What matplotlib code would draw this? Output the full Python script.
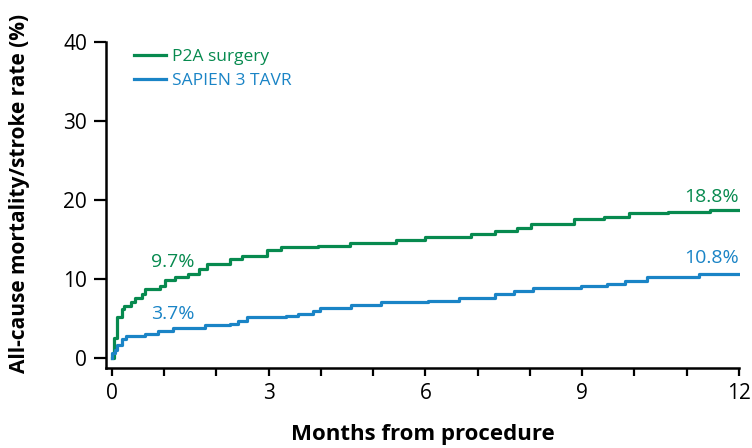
import matplotlib
matplotlib.use("Agg")
import matplotlib.pyplot as plt

plt.rcParams['font.family'] = ['Open Sans', 'DejaVu Sans']

# P2A surgery (green) step data: months, cumulative rate (%)
surg_t = [0.0, 0.03, 0.05, 0.11, 0.19, 0.24, 0.37, 0.44, 0.57, 0.64, 0.92, 1.02, 1.21, 1.46,
          1.67, 1.83, 2.26, 2.49, 2.98, 3.23, 3.94, 4.55, 5.44, 5.99, 6.88, 7.33, 7.75, 8.03,
          8.84, 9.41, 9.90, 10.64, 11.44, 12.0]
surg_y = [0.0, 0.0, 2.5, 5.1, 6.2, 6.5, 7.0, 7.6, 8.1, 8.7, 9.1, 9.8, 10.2, 10.6,
          11.2, 11.9, 12.5, 12.9, 13.6, 14.0, 14.2, 14.5, 14.9, 15.3, 15.7, 16.1, 16.5, 17.0,
          17.6, 17.8, 18.3, 18.5, 18.7, 18.7]

# SAPIEN 3 TAVR (blue) step data
tavr_t = [0.0, 0.01, 0.06, 0.11, 0.19, 0.27, 0.64, 0.89, 1.18, 1.78, 2.26, 2.42, 2.58, 3.34,
          3.56, 3.85, 3.99, 4.57, 5.15, 6.06, 6.65, 7.33, 7.70, 8.06, 8.97, 9.48, 9.82,
          10.25, 11.23, 12.0]
tavr_y = [0.0, 0.6, 1.0, 1.6, 2.4, 2.7, 3.0, 3.4, 3.8, 4.1, 4.3, 4.6, 5.1, 5.3,
          5.5, 5.9, 6.3, 6.7, 7.0, 7.2, 7.6, 8.1, 8.5, 8.9, 9.1, 9.4, 9.7,
          10.2, 10.6, 10.6]

series_labels = ["P2A surgery", "SAPIEN 3 TAVR"]
annot_surg = ["9.7%", "18.8%"]
annot_tavr = ["3.7%", "10.8%"]
x_ticks = [0, 3, 6, 9, 12]
y_ticks = [0, 10, 20, 30, 40]

GREEN = "#078a4f"
BLUE = "#1a84c6"

fig = plt.figure(figsize=(7.52, 4.48), dpi=100)
ax = fig.add_axes([0.1416, 0.1786, 0.8424, 0.7274])

ax.step(surg_t, surg_y, where='post', color=GREEN, lw=2.3, label=series_labels[0])
ax.step(tavr_t, tavr_y, where='post', color=BLUE, lw=2.3, label=series_labels[1])

ax.set_xlim(-0.1, 12.02)
ax.set_ylim(-1.3, 40)
ax.set_xticks(x_ticks)
ax.set_xticks(range(0, 13), minor=True)
ax.set_yticks(y_ticks)
ax.tick_params(axis='both', which='both', direction='out', width=1.6, labelsize=15)
ax.tick_params(axis='x', which='both', length=6, pad=5)
ax.tick_params(axis='y', which='both', length=9, pad=5)
for s in ['top', 'right']:
    ax.spines[s].set_visible(False)
for s in ['left', 'bottom']:
    ax.spines[s].set_linewidth(1.8)
ax.spines['bottom'].set_bounds(-0.1, 12.0)

ax.set_xlabel("Months from procedure", fontsize=16, fontweight='bold', labelpad=14)
ax.set_ylabel("All-cause mortality/stroke rate (%)", fontsize=15, fontweight='bold')
ax.yaxis.set_label_coords(-0.12, 0.535)

ax.text(0.75, 12.1, annot_surg[0], color=GREEN, fontsize=14, ha='left', va='center')
ax.text(0.75, 5.6, annot_tavr[0], color=BLUE, fontsize=14, ha='left', va='center')
ax.text(12.0, 20.4, annot_surg[1], color=GREEN, fontsize=14, ha='right', va='center')
ax.text(12.0, 12.6, annot_tavr[1], color=BLUE, fontsize=14, ha='right', va='center')

leg = ax.legend(loc='upper left', bbox_to_anchor=(0.032, 1.0), frameon=False, fontsize=12.5,
                handlelength=1.84, handletextpad=0.35, labelspacing=0.42, borderaxespad=0.0)
for txt, c in zip(leg.get_texts(), [GREEN, BLUE]):
    txt.set_color(c)

fig.savefig("out.png", dpi=100)
